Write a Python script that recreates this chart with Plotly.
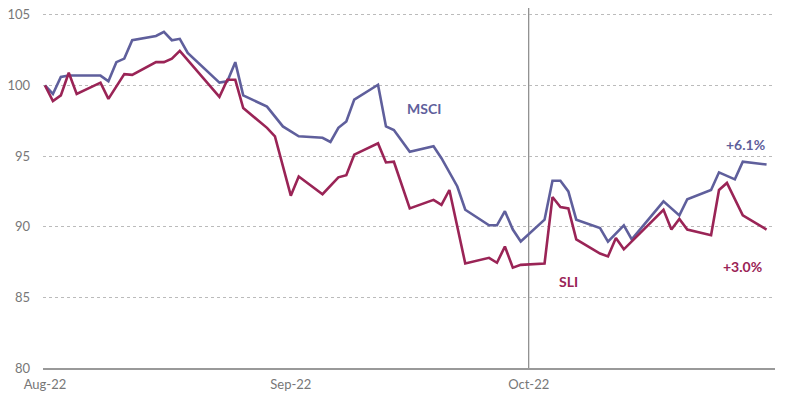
import plotly.graph_objects as go

msci_dates = ["2022-08-01","2022-08-02","2022-08-03","2022-08-04","2022-08-08","2022-08-09","2022-08-10",
              "2022-08-11","2022-08-12","2022-08-15","2022-08-16","2022-08-17","2022-08-18","2022-08-19",
              "2022-08-23","2022-08-24","2022-08-25","2022-08-26","2022-08-29","2022-08-31","2022-09-02",
              "2022-09-05","2022-09-06","2022-09-07","2022-09-08","2022-09-09","2022-09-12","2022-09-13",
              "2022-09-14","2022-09-16","2022-09-19","2022-09-20","2022-09-22","2022-09-23","2022-09-26",
              "2022-09-27","2022-09-28","2022-09-29","2022-09-30","2022-10-03","2022-10-04","2022-10-05",
              "2022-10-06","2022-10-07","2022-10-10","2022-10-11","2022-10-13","2022-10-14","2022-10-18",
              "2022-10-20","2022-10-21","2022-10-24","2022-10-25","2022-10-27","2022-10-28","2022-10-31"]
msci_values = [100.0, 99.4, 100.6, 100.7, 100.7, 100.3, 101.65,
               101.9, 103.2, 103.5, 103.8, 103.2, 103.3, 102.3,
               100.2, 100.3, 101.65, 99.3, 98.5, 97.1, 96.4,
               96.3, 96.0, 97.0, 97.45, 99.0, 100.05, 97.1,
               96.85, 95.3, 95.7, 94.85, 92.85, 91.2, 90.1,
               90.1, 91.1, 89.8, 88.95, 90.5, 93.25, 93.25,
               92.5, 90.5, 89.9, 88.95, 90.1, 89.1, 91.8,
               90.8, 91.95, 92.6, 93.85, 93.35, 94.6, 94.4]

sli_dates = ["2022-08-01","2022-08-02","2022-08-03","2022-08-04","2022-08-05","2022-08-08","2022-08-09",
             "2022-08-11","2022-08-12","2022-08-15","2022-08-16","2022-08-17","2022-08-18","2022-08-23",
             "2022-08-24","2022-08-25","2022-08-26","2022-08-29","2022-08-30","2022-09-01","2022-09-02",
             "2022-09-05","2022-09-07","2022-09-08","2022-09-09","2022-09-12","2022-09-13","2022-09-14",
             "2022-09-16","2022-09-19","2022-09-20","2022-09-21","2022-09-23","2022-09-26","2022-09-27",
             "2022-09-28","2022-09-29","2022-09-30","2022-10-03","2022-10-04","2022-10-05","2022-10-06",
             "2022-10-07","2022-10-10","2022-10-11","2022-10-12","2022-10-13","2022-10-18","2022-10-19",
             "2022-10-20","2022-10-21","2022-10-24","2022-10-25","2022-10-26","2022-10-28","2022-10-31"]
sli_values = [100.0, 98.9, 99.3, 100.9, 99.4, 100.2, 99.05,
              100.8, 100.75, 101.65, 101.65, 101.9, 102.45, 99.2,
              100.4, 100.4, 98.4, 97.0, 96.4, 92.2, 93.55,
              92.3, 93.5, 93.65, 95.1, 95.9, 94.55, 94.6,
              91.3, 91.9, 91.55, 92.6, 87.4, 87.8, 87.45,
              88.6, 87.1, 87.3, 87.4, 92.1, 91.4, 91.3,
              89.1, 88.1, 87.9, 89.2, 88.4, 91.2, 89.8,
              90.55, 89.8, 89.4, 92.6, 93.1, 90.8, 89.8]

y_ticks = [80, 85, 90, 95, 100, 105]
x_ticks = ["2022-08-01", "2022-09-01", "2022-10-01"]
x_tick_labels = ["Aug-22", "Sep-22", "Oct-22"]

MSCI_COLOR = "#5f5f9c"
SLI_COLOR = "#9a2456"
FONT = "Lato"

fig = go.Figure()
fig.add_trace(go.Scatter(x=msci_dates, y=msci_values, mode="lines", name="MSCI",
                         line=dict(color=MSCI_COLOR, width=2.6)))
fig.add_trace(go.Scatter(x=sli_dates, y=sli_values, mode="lines", name="SLI",
                         line=dict(color=SLI_COLOR, width=2.6)))

fig.add_shape(type="line", xref="x", yref="paper", x0="2022-10-01", x1="2022-10-01",
              y0=0, y1=1.03, line=dict(color="#888888", width=1.2), layer="below")

annots = [
    dict(x="2022-09-17 18:00", y=98.4, text="<b>MSCI</b>", color=MSCI_COLOR),
    dict(x="2022-10-06", y=86.1, text="<b>SLI</b>", color=SLI_COLOR),
    dict(x="2022-10-28 08:00", y=95.8, text="<b>+6.1%</b>", color=MSCI_COLOR),
    dict(x="2022-10-28", y=87.2, text="<b>+3.0%</b>", color=SLI_COLOR),
]
for a in annots:
    fig.add_annotation(x=a["x"], y=a["y"], text=a["text"], showarrow=False,
                       font=dict(family=FONT, size=14, color=a["color"]))

fig.update_layout(
    width=792, height=409,
    margin=dict(l=35, r=25, t=4, b=49),
    paper_bgcolor="white", plot_bgcolor="white",
    showlegend=False,
    font=dict(family=FONT, size=13, color="#777777"),
    xaxis=dict(type="date", range=["2022-07-31 18:00", "2022-11-01 01:30"],
               tickvals=x_ticks, ticktext=x_tick_labels,
               showgrid=False, zeroline=False, automargin=False,
               showline=True, linecolor="#999999", linewidth=1.5,
               ticks="", ticklabelstandoff=4, ticklabeloverflow="allow",
               tickfont=dict(size=13, color="#777777")),
    yaxis=dict(range=[80, 105.2], tickvals=y_ticks, automargin=False,
               showgrid=True, gridcolor="#bbbbbb", griddash="dot", gridwidth=1.2,
               zeroline=False, showline=False, ticks="",
               ticklabelstandoff=12, ticklabeloverflow="allow",
               tickfont=dict(size=13, color="#777777")),
)

fig.write_html("out.html")
